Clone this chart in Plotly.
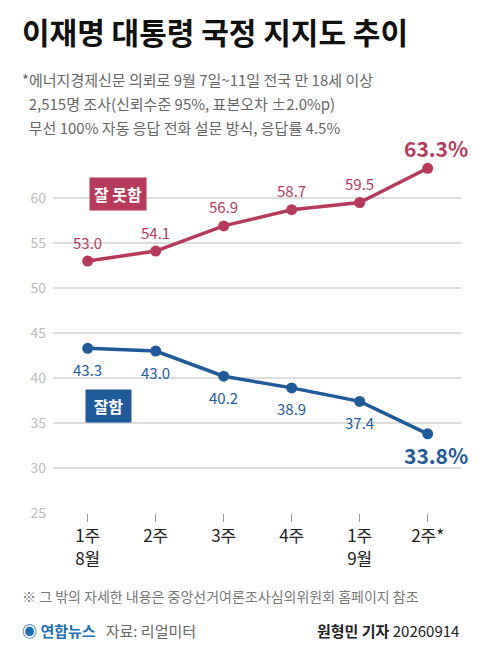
import plotly.graph_objects as go

# data
weeks = ['1주<br>8월', '2주', '3주', '4주', '1주<br>9월', '2주*']
bad = [53.0, 54.1, 56.9, 58.7, 59.5, 63.3]
good = [43.3, 43.0, 40.2, 38.9, 37.4, 33.8]
yticks = [25, 30, 35, 40, 45, 50, 55, 60]

RED = '#b63a5c'
BLUE = '#1f5b98'
FONT = 'Noto Sans CJK KR'
xs = list(range(len(weeks)))

fig = go.Figure()
fig.add_trace(go.Scatter(x=xs, y=bad, mode='lines+markers',
                         line=dict(color=RED, width=3.5),
                         marker=dict(color=RED, size=11)))
fig.add_trace(go.Scatter(x=xs, y=good, mode='lines+markers',
                         line=dict(color=BLUE, width=3.5),
                         marker=dict(color=BLUE, size=11)))

# value labels
for i in xs[:-1]:
    fig.add_annotation(x=i, y=bad[i], text=f'{bad[i]:.1f}', showarrow=False,
                       yshift=19, font=dict(family=FONT, size=15, color=RED))
    fig.add_annotation(x=i, y=good[i], text=f'{good[i]:.1f}', showarrow=False,
                       yshift=-21, font=dict(family=FONT, size=15, color=BLUE))
fig.add_annotation(x=5, y=bad[5], text=f'<b>{bad[5]:.1f}%</b>', showarrow=False,
                   yshift=20, xshift=8, font=dict(family=FONT, size=21, color=RED))
fig.add_annotation(x=5, y=good[5], text=f'<b>{good[5]:.1f}%</b>', showarrow=False,
                   yshift=-21, xshift=8, font=dict(family=FONT, size=21, color=BLUE))

# series labels
fig.add_annotation(x=0.45, y=60.5, text='<b>잘 못함</b>', showarrow=False,
                   bgcolor=RED, borderpad=4, font=dict(family=FONT, size=16, color='white'))
fig.add_annotation(x=0.3, y=36.9, text='<b> 잘함 </b>', showarrow=False,
                   bgcolor=BLUE, borderpad=4, font=dict(family=FONT, size=16, color='white'))

# title & notes
fig.add_annotation(xref='paper', yref='paper', x=-0.08, y=1.34, xanchor='left', yanchor='middle',
                   text='<b>이재명 대통령 국정 지지도 추이</b>', showarrow=False,
                   font=dict(family=FONT, size=30, color='#111'))
notes = ['*에너지경제신문 의뢰로 9월 7일~11일 전국 만 18세 이상',
         '  2,515명 조사(신뢰수준 95%, 표본오차 ±2.0%p)',
         '  무선 100% 자동 응답 전화 설문 방식, 응답률 4.5%']
for k, t in enumerate(notes):
    fig.add_annotation(xref='paper', yref='paper', x=-0.08, y=1.205 - k * 0.067,
                       xanchor='left', yanchor='middle', text=t, showarrow=False,
                       font=dict(family=FONT, size=15, color='#666'))
fig.add_annotation(xref='paper', yref='paper', x=-0.08, y=-0.265, xanchor='left',
                   text='※ 그 밖의 자세한 내용은 중앙선거여론조사심의위원회 홈페이지 참조',
                   showarrow=False, font=dict(family=FONT, size=14, color='#777'))
fig.add_annotation(xref='paper', yref='paper', x=-0.08, y=-0.36, xanchor='left',
                   text='<b><span style="color:#1d6fb8">◉ 연합뉴스</span></b>   <span style="color:#666">자료: 리얼미터</span>',
                   showarrow=False, font=dict(family=FONT, size=15))
fig.add_annotation(xref='paper', yref='paper', x=1.0, y=-0.36, xanchor='right',
                   text='<b>원형민 기자</b> 20260914', showarrow=False,
                   font=dict(family=FONT, size=15, color='#222'))

fig.update_layout(
    width=480, height=658,
    margin=dict(l=45, r=27, t=145, b=153),
    paper_bgcolor='white', plot_bgcolor='white',
    showlegend=False,
    xaxis=dict(range=[-0.51, 5.49], tickvals=xs, ticktext=weeks, showgrid=False,
               zeroline=False, ticks='outside', ticklen=8, tickcolor='#999',
               tickfont=dict(family=FONT, size=17, color='#222')),
    yaxis=dict(range=[25, 65], tickvals=yticks, showgrid=True, gridcolor='#ddd',
               gridwidth=1.5, zeroline=False, ticklabelstandoff=6,
               tickfont=dict(family=FONT, size=14, color='#bbb')),
)

fig.write_html('out.html')
